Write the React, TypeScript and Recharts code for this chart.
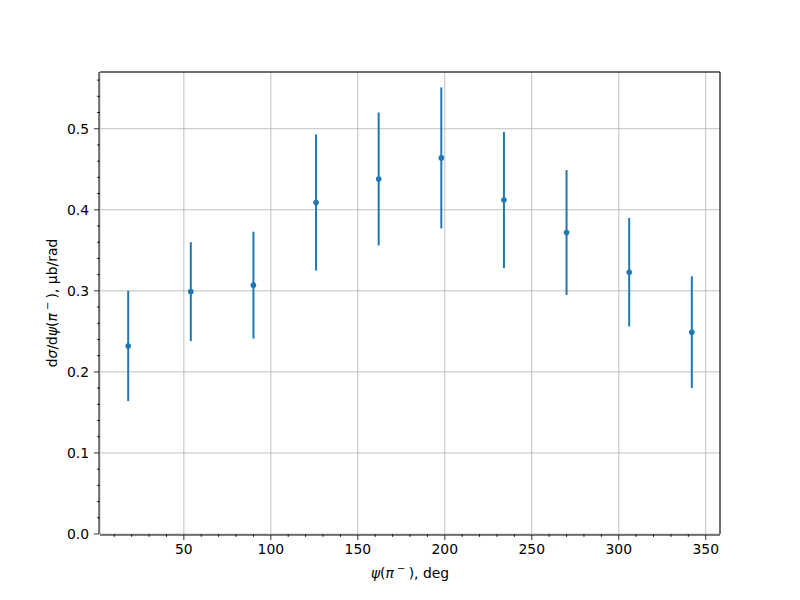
import React from 'react';
import {
  ScatterChart,
  Scatter,
  XAxis,
  YAxis,
  CartesianGrid,
  ErrorBar
} from 'recharts';

// psi bin centres (deg)
const psiDeg = [18, 54, 90, 126, 162, 198, 234, 270, 306, 342];
// dσ/dψ values (μb/rad)
const sigma = [0.232, 0.299, 0.307, 0.409, 0.438, 0.464, 0.412, 0.372, 0.323, 0.249];
// symmetric errors
const sigmaErr = [0.068, 0.061, 0.066, 0.084, 0.082, 0.087, 0.084, 0.077, 0.067, 0.069];

const xTicks = [50, 100, 150, 200, 250, 300, 350];
const xMinorTicks = [10, 20, 30, 40, 60, 70, 80, 90, 110, 120, 130, 140, 160, 170, 180, 190, 210, 220, 230, 240, 260, 270, 280, 290, 310, 320, 330, 340];
const yTicks = [0, 0.1, 0.2, 0.3, 0.4, 0.5];
const yMinorTicks = [0.02, 0.04, 0.06, 0.08, 0.12, 0.14, 0.16, 0.18, 0.22, 0.24, 0.26, 0.28, 0.32, 0.34, 0.36, 0.38, 0.42, 0.44, 0.46, 0.48, 0.52, 0.54, 0.56];

const data = psiDeg.map((x, i) => ({ x, y: sigma[i], err: sigmaErr[i] }));

const BLUE = '#1f77b4';
const FONT = 'DejaVu Sans, sans-serif';
const tickStyle = { fill: '#000', fontSize: 13.9, fontFamily: FONT };
const xDomain: [number, number] = [1.8, 358.2];
const yDomain: [number, number] = [0, 0.57];

const Dot = (props: any) => {
  const { cx, cy } = props;
  return <circle cx={cx} cy={cy} r={2.8} fill={BLUE} />;
};

const XLabel = ({ viewBox }: any) => {
  const cx = viewBox.x + viewBox.width / 2;
  return (
    <text x={cx} y={578} textAnchor="middle" fontFamily={FONT} fontSize={13.9} fill="#000">
      <tspan fontStyle="italic">ψ</tspan>(<tspan fontStyle="italic">π</tspan>
      <tspan dy={-6} fontSize={10}> − </tspan>
      <tspan dy={6}>), deg</tspan>
    </text>
  );
};

const YLabel = ({ viewBox }: any) => {
  const cy = viewBox.y + viewBox.height / 2;
  const x = 57;
  return (
    <text
      x={x}
      y={cy}
      transform={`rotate(-90, ${x}, ${cy})`}
      textAnchor="middle"
      fontFamily={FONT}
      fontSize={13.9}
      fill="#000"
    >
      d<tspan fontStyle="italic">σ</tspan>/d<tspan fontStyle="italic">ψ</tspan>(<tspan fontStyle="italic">π</tspan>
      <tspan dy={-6} fontSize={10}> − </tspan>
      <tspan dy={6}>), μb/rad</tspan>
    </text>
  );
};

export default function App() {
  return (
    <div style={{ position: 'absolute', left: 0, top: 0, width: 800, height: 600, background: '#fff' }}>
      <ScatterChart width={800} height={600} margin={{ top: 71, right: 79, bottom: 36, left: 40 }}>
        {/* minor ticks first so they sit right on the frame */}
        <XAxis
          xAxisId="minor"
          type="number"
          dataKey="x"
          domain={xDomain}
          ticks={xMinorTicks}
          height={1}
          axisLine={false}
          tickLine={{ stroke: '#000', strokeWidth: 0.8 }}
          tickSize={3}
          tickFormatter={() => ''}
          allowDataOverflow
        />
        <XAxis
          xAxisId="x"
          type="number"
          dataKey="x"
          domain={xDomain}
          ticks={xTicks}
          height={29}
          axisLine={{ stroke: '#000', strokeWidth: 1 }}
          tickLine={{ stroke: '#000', strokeWidth: 0.8 }}
          tickSize={5}
          tickMargin={4}
          tick={tickStyle}
          allowDataOverflow
          label={<XLabel />}
        />
        <XAxis
          xAxisId="top"
          type="number"
          orientation="top"
          domain={xDomain}
          height={1}
          axisLine={{ stroke: '#000', strokeWidth: 1 }}
          tickLine={false}
          tick={false}
          allowDataOverflow
        />
        <YAxis
          yAxisId="minor"
          type="number"
          dataKey="y"
          domain={yDomain}
          ticks={yMinorTicks}
          width={1}
          axisLine={false}
          tickLine={{ stroke: '#000', strokeWidth: 0.8 }}
          tickSize={3}
          tickFormatter={() => ''}
          allowDataOverflow
        />
        <YAxis
          yAxisId="y"
          type="number"
          dataKey="y"
          domain={yDomain}
          ticks={yTicks}
          width={59}
          axisLine={{ stroke: '#000', strokeWidth: 1 }}
          tickLine={{ stroke: '#000', strokeWidth: 0.8 }}
          tickSize={5}
          tickMargin={5}
          tick={tickStyle}
          tickFormatter={(v: number) => v.toFixed(1)}
          allowDataOverflow
          label={<YLabel />}
        />
        <YAxis
          yAxisId="right"
          type="number"
          orientation="right"
          domain={yDomain}
          width={1}
          axisLine={{ stroke: '#000', strokeWidth: 1 }}
          tickLine={false}
          tick={false}
          allowDataOverflow
        />
        <CartesianGrid xAxisId="x" yAxisId="y" stroke="#b0b0b0" strokeWidth={0.8} />
        <Scatter
          data={data}
          xAxisId="x"
          yAxisId="y"
          dataKey="y"
          shape={<Dot />}
          isAnimationActive={false}
        >
          <ErrorBar dataKey="err" direction="y" width={0} stroke={BLUE} strokeWidth={2} />
        </Scatter>
      </ScatterChart>
    </div>
  );
}
